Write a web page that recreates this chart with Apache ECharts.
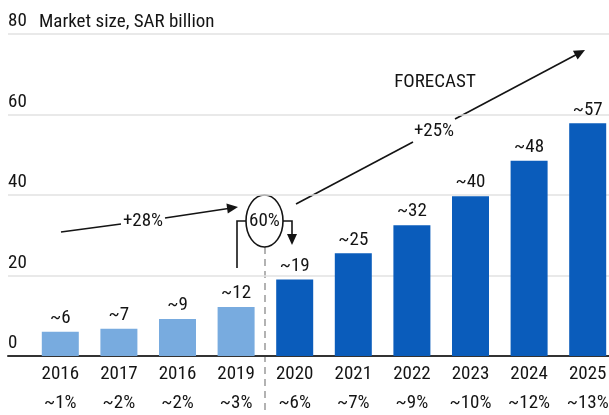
<!DOCTYPE html>
<html>
<head>
<meta charset="utf-8">
<script src="https://cdn.jsdelivr.net/npm/echarts@6/dist/echarts.min.js"></script>
<style>
html,body{margin:0;padding:0;background:#fff;}
#c{width:609px;height:415px;}
</style>
</head>
<body>
<div id="c"></div>
<script>
const years = ['2016','2017','2016','2019','2020','2021','2022','2023','2024','2025'];
const shares = ['~1%','~2%','~2%','~3%','~6%','~7%','~9%','~10%','~12%','~13%'];
const values = [6, 6.8, 9.2, 12.2, 19, 25.5, 32.5, 39.7, 48.5, 57.8];
const valueLabels = ['~6','~7','~9','~12','~19','~25','~32','~40','~48','~57'];
const historicCount = 4;
const yTicks = [0, 20, 40, 60, 80];

const FONT = "'Roboto Condensed', 'DejaVu Sans Condensed', sans-serif";
const FS = 19;
const LIGHT = '#78abdf';
const DARK = '#0a5cbb';
const INK = '#141414';

const chart = echarts.init(document.getElementById('c'), null, {renderer: 'canvas'});

function arrowHead(tip, from, len, half) {
  const dx = tip[0] - from[0], dy = tip[1] - from[1];
  const d = Math.hypot(dx, dy);
  const ux = dx / d, uy = dy / d;
  const bx = tip[0] - ux * len, by = tip[1] - uy * len;
  const nx = -uy, ny = ux;
  return {
    type: 'polygon',
    shape: {points: [tip, [bx + nx * half, by + ny * half], [bx - nx * half, by - ny * half]]},
    style: {fill: INK}
  };
}
function seg(a, b, w) {
  return {type: 'line', shape: {x1: a[0], y1: a[1], x2: b[0], y2: b[1]}, style: {stroke: INK, lineWidth: w || 1.6}};
}
function txt(x, y, s, size) {
  return {type: 'text', x: x, y: y, style: {text: s, font: (size || FS) + 'px ' + FONT, fill: INK, textAlign: 'center', textVerticalAlign: 'middle'}};
}

const graphics = [
  // +28% arrow
  seg([61, 232], [121, 224]),
  seg([165, 218], [230, 208.2]),
  arrowHead([238, 207], [61, 232], 11, 5),
  txt(143, 221, '+28%'),
  // +25% arrow
  seg([296, 204], [413, 142]),
  seg([455, 119], [577, 54.2]),
  arrowHead([585, 50], [296, 204], 11, 5),
  txt(434, 131, '+25%'),
  txt(435, 82, 'FORECAST'),
  // dashed separator
  {type: 'line', shape: {x1: 265, y1: 247, x2: 265, y2: 415}, style: {stroke: '#8a8a8a', lineWidth: 1.3, lineDash: [7, 5]}},
  // bracket
  {type: 'polyline', shape: {points: [[246, 221], [237, 221], [237, 268]]}, style: {stroke: INK, lineWidth: 1.6, fill: null}},
  {type: 'polyline', shape: {points: [[283, 221], [292, 221], [292, 236]]}, style: {stroke: INK, lineWidth: 1.6, fill: null}},
  arrowHead([292, 245], [292, 221], 11, 5),
  // circle
  {type: 'ellipse', shape: {cx: 264.5, cy: 221, rx: 18.5, ry: 26}, style: {stroke: INK, lineWidth: 1.6, fill: '#fff'}},
  txt(264.5, 221, '60%'),
  // title
  {type: 'text', x: 39, y: 22, style: {text: 'Market size, SAR billion', font: FS + 'px ' + FONT, fill: INK, textAlign: 'left', textVerticalAlign: 'middle'}}
];

chart.setOption({
  animation: false,
  backgroundColor: '#fff',
  grid: [
    {left: 31, right: -8, top: 34, bottom: 59, containLabel: false, outerBoundsMode: 'none'},
    {left: 8, right: 0, top: 34, bottom: 59, containLabel: false, outerBoundsMode: 'none'}
  ],
  xAxis: [
    {
      type: 'category', gridIndex: 0,
      data: years.map((y, i) => y + '\n' + shares[i]),
      axisLine: {show: false}, axisTick: {show: false},
      axisLabel: {color: INK, fontFamily: FONT, fontSize: FS, lineHeight: 29, margin: 4, interval: 0}
    },
    {
      type: 'value', gridIndex: 1, min: 0, max: 1,
      axisLine: {show: true, onZero: false, lineStyle: {color: '#333', width: 2}},
      axisTick: {show: false}, axisLabel: {show: false}, splitLine: {show: false}
    }
  ],
  yAxis: [
    {type: 'value', gridIndex: 0, min: 0, max: 80, show: false, splitLine: {show: false}},
    {
      type: 'value', gridIndex: 1, min: 0, max: 80, interval: 20,
      axisLine: {show: false}, axisTick: {show: false},
      splitLine: {show: true, lineStyle: {color: '#e2e2e2', width: 1.5}},
      axisLabel: {
        inside: true, margin: 0, color: INK, fontFamily: FONT, fontSize: FS,
        verticalAlign: 'bottom', align: 'left', padding: [0, 0, 3, 0],
        formatter: v => yTicks.indexOf(v) >= 0 ? String(v) : ''
      }
    }
  ],
  series: [{
    type: 'bar', xAxisIndex: 0, yAxisIndex: 0,
    barWidth: 37,
    z: 3,
    data: values.map((v, i) => ({value: v, itemStyle: {color: i < historicCount ? LIGHT : DARK}})),
    label: {
      show: true, position: 'top', distance: 4,
      color: INK, fontFamily: FONT, fontSize: FS,
      formatter: p => valueLabels[p.dataIndex]
    }
  }],
  graphic: graphics
});
</script>
</body>
</html>
